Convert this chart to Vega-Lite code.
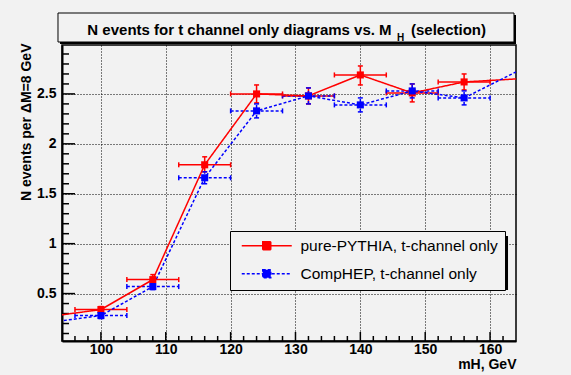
{
  "$schema": "https://vega.github.io/schema/vega-lite/v6.json",
  "width": 454,
  "height": 296,
  "autosize": {"type": "none"},
  "padding": {"left": 62, "top": 45, "right": 55, "bottom": 34},
  "background": "#f2f2f2",
  "config": {
    "font": "Liberation Sans",
    "view": {"stroke": "#000", "strokeWidth": 1.5, "fill": "#f2f2f2"}
  },
  "datasets": {
    "pts": [
      {"series": "pure-PYTHIA, t-channel only", "m": 100, "n": 0.34, "mlo": 96, "mhi": 104, "nlo": 0.31, "nhi": 0.37},
      {"series": "pure-PYTHIA, t-channel only", "m": 108, "n": 0.64, "mlo": 104, "mhi": 112, "nlo": 0.60, "nhi": 0.69},
      {"series": "pure-PYTHIA, t-channel only", "m": 116, "n": 1.79, "mlo": 112, "mhi": 120, "nlo": 1.72, "nhi": 1.87},
      {"series": "pure-PYTHIA, t-channel only", "m": 124, "n": 2.50, "mlo": 120, "mhi": 128, "nlo": 2.41, "nhi": 2.59},
      {"series": "pure-PYTHIA, t-channel only", "m": 132, "n": 2.48, "mlo": 128, "mhi": 136, "nlo": 2.40, "nhi": 2.56},
      {"series": "pure-PYTHIA, t-channel only", "m": 140, "n": 2.69, "mlo": 136, "mhi": 144, "nlo": 2.59, "nhi": 2.78},
      {"series": "pure-PYTHIA, t-channel only", "m": 148, "n": 2.51, "mlo": 144, "mhi": 152, "nlo": 2.42, "nhi": 2.60},
      {"series": "pure-PYTHIA, t-channel only", "m": 156, "n": 2.62, "mlo": 152, "mhi": 160, "nlo": 2.54, "nhi": 2.70},
      {"series": "CompHEP, t-channel only", "m": 100, "n": 0.28, "mlo": 96, "mhi": 104, "nlo": 0.25, "nhi": 0.31},
      {"series": "CompHEP, t-channel only", "m": 108, "n": 0.57, "mlo": 104, "mhi": 112, "nlo": 0.54, "nhi": 0.60},
      {"series": "CompHEP, t-channel only", "m": 116, "n": 1.66, "mlo": 112, "mhi": 120, "nlo": 1.60, "nhi": 1.72},
      {"series": "CompHEP, t-channel only", "m": 124, "n": 2.33, "mlo": 120, "mhi": 128, "nlo": 2.26, "nhi": 2.40},
      {"series": "CompHEP, t-channel only", "m": 132, "n": 2.48, "mlo": 128, "mhi": 136, "nlo": 2.40, "nhi": 2.56},
      {"series": "CompHEP, t-channel only", "m": 140, "n": 2.39, "mlo": 136, "mhi": 144, "nlo": 2.32, "nhi": 2.46},
      {"series": "CompHEP, t-channel only", "m": 148, "n": 2.53, "mlo": 144, "mhi": 152, "nlo": 2.46, "nhi": 2.60},
      {"series": "CompHEP, t-channel only", "m": 156, "n": 2.46, "mlo": 152, "mhi": 160, "nlo": 2.39, "nhi": 2.53}
    ],
    "curve": [
      {"series": "pure-PYTHIA, t-channel only", "m": 92, "n": 0.27},
      {"series": "pure-PYTHIA, t-channel only", "m": 100, "n": 0.34},
      {"series": "pure-PYTHIA, t-channel only", "m": 108, "n": 0.64},
      {"series": "pure-PYTHIA, t-channel only", "m": 116, "n": 1.79},
      {"series": "pure-PYTHIA, t-channel only", "m": 124, "n": 2.50},
      {"series": "pure-PYTHIA, t-channel only", "m": 132, "n": 2.48},
      {"series": "pure-PYTHIA, t-channel only", "m": 140, "n": 2.69},
      {"series": "pure-PYTHIA, t-channel only", "m": 148, "n": 2.51},
      {"series": "pure-PYTHIA, t-channel only", "m": 156, "n": 2.62},
      {"series": "pure-PYTHIA, t-channel only", "m": 164, "n": 2.65},
      {"series": "CompHEP, t-channel only", "m": 92, "n": 0.21},
      {"series": "CompHEP, t-channel only", "m": 100, "n": 0.28},
      {"series": "CompHEP, t-channel only", "m": 108, "n": 0.57},
      {"series": "CompHEP, t-channel only", "m": 116, "n": 1.66},
      {"series": "CompHEP, t-channel only", "m": 124, "n": 2.33},
      {"series": "CompHEP, t-channel only", "m": 132, "n": 2.48},
      {"series": "CompHEP, t-channel only", "m": 140, "n": 2.39},
      {"series": "CompHEP, t-channel only", "m": 148, "n": 2.53},
      {"series": "CompHEP, t-channel only", "m": 156, "n": 2.46},
      {"series": "CompHEP, t-channel only", "m": 164, "n": 2.72}
    ],
    "xticks": [
      {"v": 96}, {"v": 98}, {"v": 100}, {"v": 102}, {"v": 104}, {"v": 106}, {"v": 108}, {"v": 110}, {"v": 112}, {"v": 114}, {"v": 116}, {"v": 118},
      {"v": 120}, {"v": 122}, {"v": 124}, {"v": 126}, {"v": 128}, {"v": 130}, {"v": 132}, {"v": 134}, {"v": 136}, {"v": 138}, {"v": 140}, {"v": 142},
      {"v": 144}, {"v": 146}, {"v": 148}, {"v": 150}, {"v": 152}, {"v": 154}, {"v": 156}, {"v": 158}, {"v": 160}, {"v": 162}
    ],
    "yticks": [
      {"v": 0.1}, {"v": 0.2}, {"v": 0.3}, {"v": 0.4}, {"v": 0.5}, {"v": 0.6}, {"v": 0.7}, {"v": 0.8}, {"v": 0.9}, {"v": 1.0},
      {"v": 1.1}, {"v": 1.2}, {"v": 1.3}, {"v": 1.4}, {"v": 1.5}, {"v": 1.6}, {"v": 1.7}, {"v": 1.8}, {"v": 1.9}, {"v": 2.0},
      {"v": 2.1}, {"v": 2.2}, {"v": 2.3}, {"v": 2.4}, {"v": 2.5}, {"v": 2.6}, {"v": 2.7}, {"v": 2.8}, {"v": 2.9}
    ]
  },
  "layer": [
    {
      "data": {"values": [{}]},
      "mark": {"type": "rect", "fill": "#000"},
      "encoding": {
        "x": {"datum": 120.67, "type": "quantitative"},
        "x2": {"datum": 162.77},
        "y": {"datum": 1.0768, "type": "quantitative"},
        "y2": {"datum": 0.5359}
      }
    },
    {
      "data": {"name": "pts"},
      "mark": {"type": "rule", "strokeWidth": 1.5},
      "encoding": {
        "x": {
          "field": "mlo", "type": "quantitative",
          "scale": {"domain": [94, 164], "nice": false, "zero": false},
          "axis": {
            "values": [100, 110, 120, 130, 140, 150, 160],
            "tickCount": 200,
            "format": "d",
            "ticks": false,
            "grid": true,
            "gridDash": [1, 2], "gridColor": "#000", "gridWidth": 1,
            "domainColor": "#000", "domainWidth": 2,
            "labelFont": "Liberation Sans", "labelFontWeight": "bold", "labelFontSize": 14, "labelColor": "#000",
            "labelPadding": 1, "labelFlush": false, "labelOverlap": false,
            "title": "mH, GeV",
            "titleFont": "Liberation Sans", "titleFontWeight": "bold", "titleFontSize": 14, "titleColor": "#000",
            "titleAnchor": "end", "titleAlign": "right", "titleBaseline": "alphabetic", "titleX": 454, "titleY": 27
          }
        },
        "x2": {"field": "mhi"},
        "y": {
          "field": "n", "type": "quantitative",
          "scale": {"domain": [0.025, 2.99], "nice": false, "zero": false},
          "axis": {
            "values": [0.5, 1, 1.5, 2, 2.5],
            "tickCount": 200,
            "format": ".2~f",
            "ticks": false,
            "grid": true,
            "gridDash": [1, 2], "gridColor": "#000", "gridWidth": 1,
            "domainColor": "#000", "domainWidth": 2,
            "labelFont": "Liberation Sans", "labelFontWeight": "bold", "labelFontSize": 14, "labelColor": "#000",
            "labelPadding": 6, "labelFlush": false, "labelOverlap": false,
            "title": "N events per \u0394M=8 GeV",
            "titleFont": "Liberation Sans", "titleFontWeight": "bold", "titleFontSize": 14, "titleColor": "#000",
            "titleAnchor": "end", "titleAngle": -90, "titleAlign": "right", "titleBaseline": "middle", "titleX": -36, "titleY": -2
          }
        },
        "color": {"field": "series", "type": "nominal", "scale": {"domain": ["pure-PYTHIA, t-channel only", "CompHEP, t-channel only"], "range": ["#ff0000", "#0000ff"]}},
        "strokeDash": {"field": "series", "type": "nominal", "scale": {"domain": ["pure-PYTHIA, t-channel only", "CompHEP, t-channel only"], "range": [[1, 0], [3, 2]]}}
      }
    },
    {
      "data": {"name": "xticks"},
      "transform": [{"filter": "datum.v % 10 !== 0"}],
      "mark": {"type": "tick", "orient": "vertical", "size": 5, "thickness": 1.5, "color": "#000", "opacity": 1, "yOffset": -2.5},
      "encoding": {
        "x": {"field": "v", "type": "quantitative"},
        "y": {"datum": 0.025, "type": "quantitative"}
      }
    },
    {
      "data": {"name": "xticks"},
      "transform": [{"filter": "datum.v % 10 === 0"}],
      "mark": {"type": "tick", "orient": "vertical", "size": 9, "thickness": 1.5, "color": "#000", "opacity": 1, "yOffset": -4.5},
      "encoding": {
        "x": {"field": "v", "type": "quantitative"},
        "y": {"datum": 0.025, "type": "quantitative"}
      }
    },
    {
      "data": {"name": "yticks"},
      "transform": [{"filter": "abs(datum.v * 2 - round(datum.v * 2)) >= 0.001"}],
      "mark": {"type": "tick", "orient": "horizontal", "size": 7, "thickness": 1.5, "color": "#000", "opacity": 1, "xOffset": 3.5},
      "encoding": {
        "x": {"datum": 94, "type": "quantitative"},
        "y": {"field": "v", "type": "quantitative"}
      }
    },
    {
      "data": {"name": "yticks"},
      "transform": [{"filter": "abs(datum.v * 2 - round(datum.v * 2)) < 0.001"}],
      "mark": {"type": "tick", "orient": "horizontal", "size": 13, "thickness": 1.5, "color": "#000", "opacity": 1, "xOffset": 6.5},
      "encoding": {
        "x": {"datum": 94, "type": "quantitative"},
        "y": {"field": "v", "type": "quantitative"}
      }
    },
    {
      "data": {"name": "pts"},
      "mark": {"type": "rule", "strokeWidth": 1.5},
      "encoding": {
        "x": {"field": "m", "type": "quantitative"},
        "y": {"field": "nlo", "type": "quantitative"},
        "y2": {"field": "nhi"},
        "color": {"field": "series", "type": "nominal"},
        "strokeDash": {"field": "series", "type": "nominal"}
      }
    },
    {
      "data": {"name": "pts"},
      "mark": {"type": "tick", "orient": "vertical", "size": 5, "thickness": 1.5, "opacity": 1},
      "encoding": {
        "x": {"field": "mlo", "type": "quantitative"},
        "y": {"field": "n", "type": "quantitative"},
        "color": {"field": "series", "type": "nominal"}
      }
    },
    {
      "data": {"name": "pts"},
      "mark": {"type": "tick", "orient": "vertical", "size": 5, "thickness": 1.5, "opacity": 1},
      "encoding": {
        "x": {"field": "mhi", "type": "quantitative"},
        "y": {"field": "n", "type": "quantitative"},
        "color": {"field": "series", "type": "nominal"}
      }
    },
    {
      "data": {"name": "pts"},
      "mark": {"type": "tick", "orient": "horizontal", "size": 5, "thickness": 1.5, "opacity": 1},
      "encoding": {
        "x": {"field": "m", "type": "quantitative"},
        "y": {"field": "nlo", "type": "quantitative"},
        "color": {"field": "series", "type": "nominal"}
      }
    },
    {
      "data": {"name": "pts"},
      "mark": {"type": "tick", "orient": "horizontal", "size": 5, "thickness": 1.5, "opacity": 1},
      "encoding": {
        "x": {"field": "m", "type": "quantitative"},
        "y": {"field": "nhi", "type": "quantitative"},
        "color": {"field": "series", "type": "nominal"}
      }
    },
    {
      "data": {"name": "curve"},
      "mark": {"type": "line", "strokeWidth": 1.5, "clip": true},
      "encoding": {
        "x": {"field": "m", "type": "quantitative"},
        "y": {"field": "n", "type": "quantitative"},
        "color": {
          "field": "series", "type": "nominal",
          "legend": {
            "title": null, "orient": "none", "legendX": 168, "legendY": 186, "zindex": 5,
            "fillColor": "#f2f2f2", "strokeColor": "#000", "padding": 7, "rowPadding": 11,
            "labelFont": "Liberation Sans", "labelFontSize": 15.5, "labelColor": "#000", "labelOffset": 26, "labelLimit": 400,
            "symbolType": "M-5,0H5M-0.8,-0.8H0.8V0.8H-0.8Z", "symbolSize": 100, "symbolStrokeWidth": 1.5, "symbolOffset": 22,
            "encode": {"symbols": {"update": {"fill": {"scale": "color", "field": "value"}, "stroke": {"scale": "color", "field": "value"}}}}
          }
        },
        "strokeDash": {
          "field": "series", "type": "nominal",
          "legend": {
            "title": null, "orient": "none", "legendX": 168, "legendY": 186, "zindex": 5,
            "fillColor": "#f2f2f2", "strokeColor": "#000", "padding": 7, "rowPadding": 11,
            "labelFont": "Liberation Sans", "labelFontSize": 15.5, "labelColor": "#000", "labelOffset": 26, "labelLimit": 400,
            "symbolType": "M-5,0H5M-0.8,-0.8H0.8V0.8H-0.8Z", "symbolSize": 100, "symbolStrokeWidth": 1.5, "symbolOffset": 22
          }
        }
      }
    },
    {
      "data": {"name": "pts"},
      "mark": {"type": "point", "shape": "square", "filled": true, "size": 50, "opacity": 1},
      "encoding": {
        "x": {"field": "m", "type": "quantitative"},
        "y": {"field": "n", "type": "quantitative"},
        "color": {"field": "series", "type": "nominal"}
      }
    },
    {
      "data": {"values": [{}]},
      "mark": {"type": "rect", "fill": "#000"},
      "encoding": {
        "x": {"datum": 93.69, "type": "quantitative"},
        "x2": {"datum": 164.0},
        "y": {"datum": 3.2905, "type": "quantitative"},
        "y2": {"datum": 3.0}
      }
    },
    {
      "data": {"values": [{}]},
      "mark": {"type": "rect", "fill": "#f2f2f2", "stroke": "#000", "strokeWidth": 1},
      "encoding": {
        "x": {"datum": 93.383, "type": "quantitative"},
        "x2": {"datum": 163.69},
        "y": {"datum": 3.3105, "type": "quantitative"},
        "y2": {"datum": 3.02}
      }
    },
    {
      "data": {"values": [{"t": "N events for t channel only diagrams vs. M"}]},
      "mark": {"type": "text", "align": "right", "baseline": "alphabetic", "font": "Liberation Sans", "fontWeight": "bold", "fontSize": 15, "color": "#000"},
      "encoding": {
        "x": {"datum": 144.82, "type": "quantitative"},
        "y": {"datum": 3.094, "type": "quantitative"},
        "text": {"field": "t"}
      }
    },
    {
      "data": {"values": [{"t": "H"}]},
      "mark": {"type": "text", "align": "left", "baseline": "alphabetic", "font": "Liberation Sans", "fontWeight": "bold", "fontSize": 10, "color": "#000"},
      "encoding": {
        "x": {"datum": 145.65, "type": "quantitative"},
        "y": {"datum": 3.032, "type": "quantitative"},
        "text": {"field": "t"}
      }
    },
    {
      "data": {"values": [{"t": "(selection)"}]},
      "mark": {"type": "text", "align": "left", "baseline": "alphabetic", "font": "Liberation Sans", "fontWeight": "bold", "fontSize": 15, "color": "#000"},
      "encoding": {
        "x": {"datum": 147.81, "type": "quantitative"},
        "y": {"datum": 3.094, "type": "quantitative"},
        "text": {"field": "t"}
      }
    }
  ]
}
